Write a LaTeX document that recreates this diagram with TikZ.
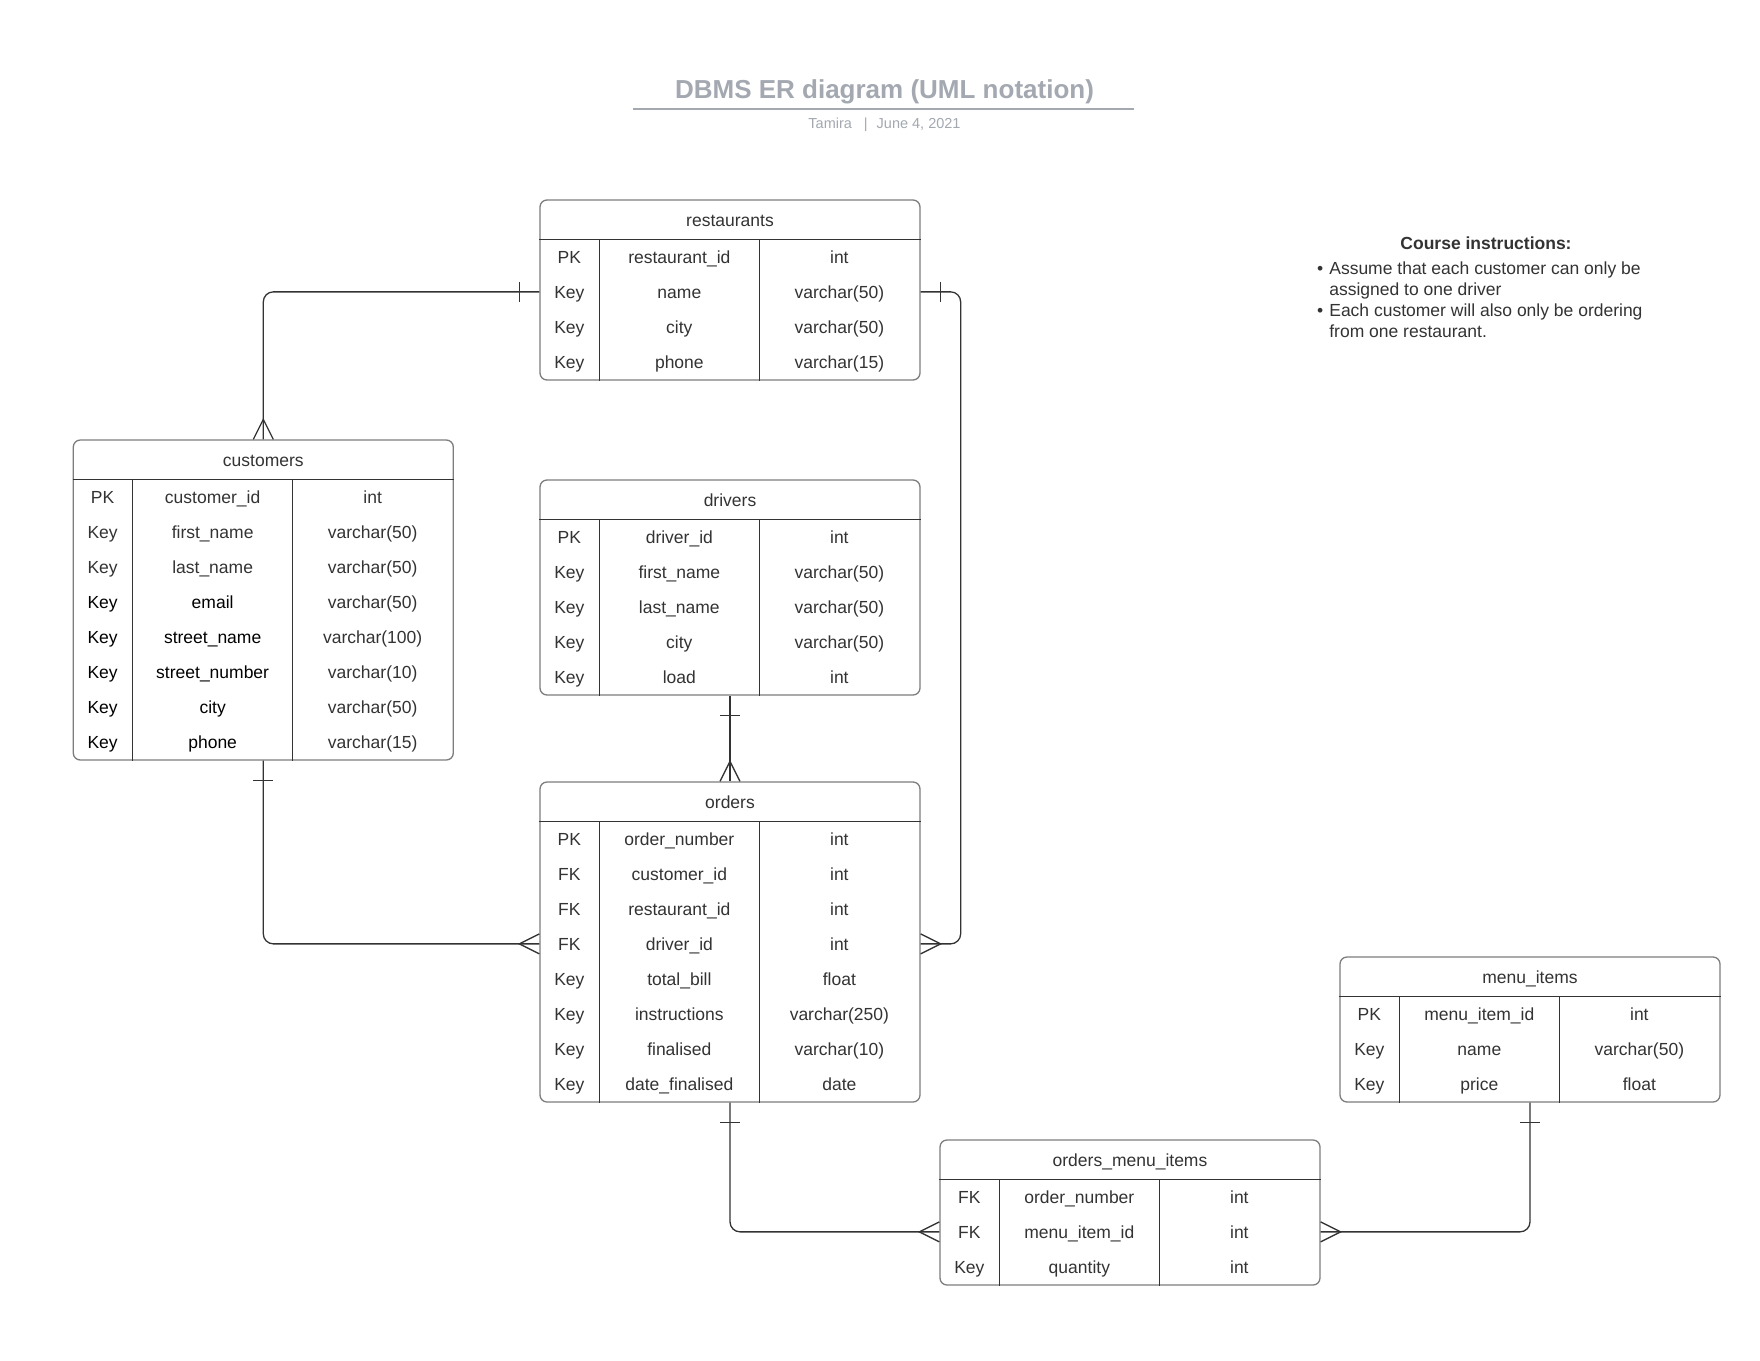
\documentclass[tikz,border=0pt]{standalone}
\usepackage{fontspec}
\setmainfont{Liberation Sans}
\usepackage{xcolor}
\usetikzlibrary{positioning,calc}
\definecolor{titlegray}{RGB}{163,168,177}
\definecolor{textgray}{RGB}{51,51,51}
\definecolor{framegray}{RGB}{125,125,125}
\definecolor{linegray}{RGB}{51,51,51}

\begin{document}
\begin{tikzpicture}[x=1pt, y=-1pt,
  entity/.style={draw=framegray, line width=1.3pt, rounded corners=7pt, fill=white, minimum width=380, inner sep=0pt},
  divider/.style={draw=linegray, line width=1.2pt},
  cell/.style={text=textgray, font=\fontsize{17.5}{21}\selectfont, inner sep=0pt, text height=15pt, text depth=1.5pt},
  relation/.style={draw=linegray, line width=1.3pt, rounded corners=10pt},
  crowfoot/.pic={\draw[relation, rounded corners=0pt] (20,-10) -- (0,0) -- (20,10);},
  onebar/.pic={\draw[relation, rounded corners=0pt] (0,-10) -- (0,10);}
]
\fill[white] (0,0) rectangle (1760,1360);
\useasboundingbox (0,0) rectangle (1760,1360);

% Title block
\node[anchor=base, text=titlegray, font=\bfseries\fontsize{26}{30}\selectfont, inner sep=0pt] (title) at (884.5,98) {DBMS ER diagram (UML notation)};
\draw[titlegray, line width=1.5pt] (633,109) -- (1134,109);
\node[anchor=base, text=titlegray, font=\fontsize{14.5}{17}\selectfont, inner sep=0pt] (subtitle) at (884.5,128) {Tamira\hspace{12pt}|\hspace{9pt}June 4, 2021};

% Course instructions
\node[anchor=base, text=textgray, font=\bfseries\fontsize{17.5}{21}\selectfont, inner sep=0pt] (notes-title) at (1486,249) {Course instructions:};
\node[anchor=base west, text=textgray, font=\fontsize{17.5}{21}\selectfont, inner sep=0pt] (notes) at (1317,274)
  {\begin{tabular}[t]{@{}l@{\hspace{6pt}}l@{}}
   \textbullet & Assume that each customer can only be\\
               & assigned to one driver\\
   \textbullet & Each customer will also only be ordering\\
               & from one restaurant.
   \end{tabular}};

% Restaurants table
\node[entity, minimum height=180] (restaurants) at (730,290) {};
\node[cell] (restaurants-title) at ([yshift=-20]restaurants.north) {restaurants};
\draw[divider] ([yshift=-40]restaurants.north west) -- ([yshift=-40]restaurants.north east);
\draw[divider] ([xshift=60,yshift=-40]restaurants.north west) -- ([xshift=60]restaurants.south west);
\draw[divider] ([xshift=220,yshift=-40]restaurants.north west) -- ([xshift=220]restaurants.south west);
\foreach \k/\f/\t [count=\i] in {PK/restaurant\_id/int, Key/name/varchar(50), Key/city/varchar(50), Key/phone/varchar(15)}
 {\node[cell] (restaurants-k\i) at ([xshift=30,yshift={-22.5-35*\i}]restaurants.north west) {\k};
  \node[cell] (restaurants-f\i) at ([xshift=140,yshift={-22.5-35*\i}]restaurants.north west) {\f};
  \node[cell] (restaurants-t\i) at ([xshift=300,yshift={-22.5-35*\i}]restaurants.north west) {\t};}

% Customers table
\node[entity, minimum height=320] (customers) at (263.3,600) {};
\node[cell] (customers-title) at ([yshift=-20]customers.north) {customers};
\draw[divider] ([yshift=-40]customers.north west) -- ([yshift=-40]customers.north east);
\draw[divider] ([xshift=60,yshift=-40]customers.north west) -- ([xshift=60]customers.south west);
\draw[divider] ([xshift=220,yshift=-40]customers.north west) -- ([xshift=220]customers.south west);
\foreach \c/\k/\f/\t [count=\i] in {textgray/PK/customer\_id/int, textgray/Key/first\_name/varchar(50),
   textgray/Key/last\_name/varchar(50), black/Key/email/varchar(50), black/Key/street\_name/varchar(100),
   black/Key/street\_number/varchar(10), black/Key/city/varchar(50), black/Key/phone/varchar(15)}
 {\node[cell, text=\c] (customers-k\i) at ([xshift=30,yshift={-22.5-35*\i}]customers.north west) {\k};
  \node[cell, text=\c] (customers-f\i) at ([xshift=140,yshift={-22.5-35*\i}]customers.north west) {\f};
  \node[cell] (customers-t\i) at ([xshift=300,yshift={-22.5-35*\i}]customers.north west) {\t};}

% Drivers table
\node[entity, minimum height=215] (drivers) at (730,587.5) {};
\node[cell] (drivers-title) at ([yshift=-20]drivers.north) {drivers};
\draw[divider] ([yshift=-40]drivers.north west) -- ([yshift=-40]drivers.north east);
\draw[divider] ([xshift=60,yshift=-40]drivers.north west) -- ([xshift=60]drivers.south west);
\draw[divider] ([xshift=220,yshift=-40]drivers.north west) -- ([xshift=220]drivers.south west);
\foreach \k/\f/\t [count=\i] in {PK/driver\_id/int, Key/first\_name/varchar(50), Key/last\_name/varchar(50),
   Key/city/varchar(50), Key/load/int}
 {\node[cell] (drivers-k\i) at ([xshift=30,yshift={-22.5-35*\i}]drivers.north west) {\k};
  \node[cell] (drivers-f\i) at ([xshift=140,yshift={-22.5-35*\i}]drivers.north west) {\f};
  \node[cell] (drivers-t\i) at ([xshift=300,yshift={-22.5-35*\i}]drivers.north west) {\t};}

% Orders table
\node[entity, minimum height=320] (orders) at (730,942) {};
\node[cell] (orders-title) at ([yshift=-20]orders.north) {orders};
\draw[divider] ([yshift=-40]orders.north west) -- ([yshift=-40]orders.north east);
\draw[divider] ([xshift=60,yshift=-40]orders.north west) -- ([xshift=60]orders.south west);
\draw[divider] ([xshift=220,yshift=-40]orders.north west) -- ([xshift=220]orders.south west);
\foreach \k/\f/\t [count=\i] in {PK/order\_number/int, FK/customer\_id/int, FK/restaurant\_id/int, FK/driver\_id/int,
   Key/total\_bill/float, Key/instructions/varchar(250), Key/finalised/varchar(10), Key/date\_finalised/date}
 {\node[cell] (orders-k\i) at ([xshift=30,yshift={-22.5-35*\i}]orders.north west) {\k};
  \node[cell] (orders-f\i) at ([xshift=140,yshift={-22.5-35*\i}]orders.north west) {\f};
  \node[cell] (orders-t\i) at ([xshift=300,yshift={-22.5-35*\i}]orders.north west) {\t};}

% Menu items table
\node[entity, minimum height=145] (menuitems) at (1530,1029.5) {};
\node[cell] (menuitems-title) at ([yshift=-20]menuitems.north) {menu\_items};
\draw[divider] ([yshift=-40]menuitems.north west) -- ([yshift=-40]menuitems.north east);
\draw[divider] ([xshift=60,yshift=-40]menuitems.north west) -- ([xshift=60]menuitems.south west);
\draw[divider] ([xshift=220,yshift=-40]menuitems.north west) -- ([xshift=220]menuitems.south west);
\foreach \k/\f/\t [count=\i] in {PK/menu\_item\_id/int, Key/name/varchar(50), Key/price/float}
 {\node[cell] (menuitems-k\i) at ([xshift=30,yshift={-22.5-35*\i}]menuitems.north west) {\k};
  \node[cell] (menuitems-f\i) at ([xshift=140,yshift={-22.5-35*\i}]menuitems.north west) {\f};
  \node[cell] (menuitems-t\i) at ([xshift=300,yshift={-22.5-35*\i}]menuitems.north west) {\t};}

% Orders menu items table
\node[entity, minimum height=145] (ordersmenu) at (1130,1212.5) {};
\node[cell] (ordersmenu-title) at ([yshift=-20]ordersmenu.north) {orders\_menu\_items};
\draw[divider] ([yshift=-40]ordersmenu.north west) -- ([yshift=-40]ordersmenu.north east);
\draw[divider] ([xshift=60,yshift=-40]ordersmenu.north west) -- ([xshift=60]ordersmenu.south west);
\draw[divider] ([xshift=220,yshift=-40]ordersmenu.north west) -- ([xshift=220]ordersmenu.south west);
\foreach \k/\f/\t [count=\i] in {FK/order\_number/int, FK/menu\_item\_id/int, Key/quantity/int}
 {\node[cell] (ordersmenu-k\i) at ([xshift=30,yshift={-22.5-35*\i}]ordersmenu.north west) {\k};
  \node[cell] (ordersmenu-f\i) at ([xshift=140,yshift={-22.5-35*\i}]ordersmenu.north west) {\f};
  \node[cell] (ordersmenu-t\i) at ([xshift=300,yshift={-22.5-35*\i}]ordersmenu.north west) {\t};}

% Connection points
\coordinate (rest-l) at (restaurants.west |- restaurants-k2);
\coordinate (rest-r) at (restaurants.east |- restaurants-k2);
\coordinate (ord-l) at (orders.west |- orders-k4);
\coordinate (ord-r) at (orders.east |- orders-k4);
\coordinate (omi-l) at (ordersmenu.west |- ordersmenu-k2);
\coordinate (omi-r) at (ordersmenu.east |- ordersmenu-k2);

% Connections
\draw[relation] (customers.north) |- (rest-l);
\draw[relation] (rest-r) -- ++(40,0) |- (ord-r);
\draw[relation] (customers.south) |- (ord-l);
\draw[relation] (drivers.south) -- (orders.north);
\draw[relation] (orders.south) |- (omi-l);
\draw[relation] (menuitems.south) |- (omi-r);

% Many ends
\pic[rotate=-90] at ([yshift=20]customers.north) {crowfoot};
\pic[rotate=-90] at ([yshift=20]orders.north) {crowfoot};
\pic at ([xshift=-20]ord-l) {crowfoot};
\pic[rotate=180] at ([xshift=20]ord-r) {crowfoot};
\pic at ([xshift=-20]omi-l) {crowfoot};
\pic[rotate=180] at ([xshift=20]omi-r) {crowfoot};

% One ends
\pic at ([xshift=-20]rest-l) {onebar};
\pic at ([xshift=20]rest-r) {onebar};
\pic[rotate=90] at ([yshift=-20]customers.south) {onebar};
\pic[rotate=90] at ([yshift=-20]drivers.south) {onebar};
\pic[rotate=90] at ([yshift=-20]orders.south) {onebar};
\pic[rotate=90] at ([yshift=-20]menuitems.south) {onebar};

\end{tikzpicture}
\end{document}
